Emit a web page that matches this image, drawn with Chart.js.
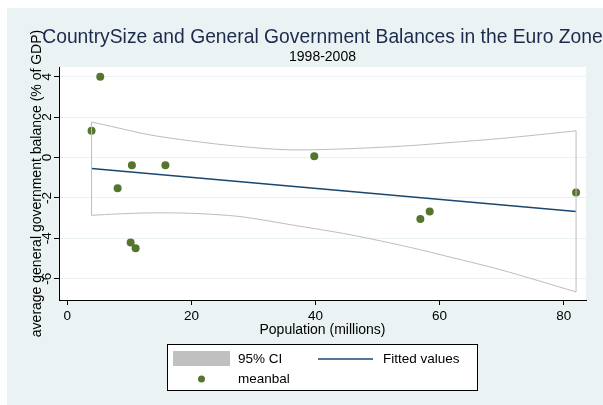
<!DOCTYPE html>
<html>
<head>
<meta charset="utf-8">
<script src="https://cdn.jsdelivr.net/npm/chart.js@4/dist/chart.umd.min.js"></script>
<style>
    html, body { margin: 0; padding: 0; background: #ffffff; }
    #wrap { width: 603px; height: 405px; position: relative; }
</style>
</head>
<body>
<div id="wrap"><canvas id="chart" width="603" height="405"></canvas></div>
<script>
// population (millions) and mean balance (% of GDP), one entry per country
const popMillions = [5.3, 3.9, 10.4, 15.8, 8.1, 10.2, 11.0, 39.8, 56.9, 58.4, 82.0];
const meanBal = [4.0, 1.32, -0.38, -0.38, -1.52, -4.21, -4.49, 0.06, -3.04, -2.67, -1.73];

// fitted line end points
const fitX = [3.9, 82.0];
const fitY = [-0.54, -2.67];

// 95% CI band
const ciX = [3.9, 8.1, 13.3, 20, 27.8, 35.9, 45.6, 55.3, 62, 69.8, 82.0];
const ciUpper = [1.76, 1.47, 1.12, 0.82, 0.55, 0.38, 0.44, 0.59, 0.75, 0.94, 1.32];
const ciLower = [-2.86, -2.79, -2.74, -2.76, -2.92, -3.32, -3.82, -4.45, -4.95, -5.55, -6.65];

const xTicks = [0, 20, 40, 60, 80];
const yTicks = [-6, -4, -2, 0, 2, 4];

const FONT = "'Liberation Sans', Arial, sans-serif";
const BG = '#eaf2f3';
const NAVY = '#1a476f';
const GREEN = '#55752f';
const CI_GREY = '#bdbdbd';

const toXY = (xs, ys) => xs.map((x, i) => ({ x: x, y: ys[i] }));

const last = ciX.length - 1;

const backdrop = {
    id: 'backdrop',
    beforeDraw(chart) {
        const ctx = chart.ctx;
        const a = chart.chartArea;
        ctx.save();
        ctx.fillStyle = '#ffffff';
        ctx.fillRect(0, 0, chart.width, chart.height);
        ctx.fillStyle = BG;
        ctx.fillRect(7, 8, chart.width - 7, chart.height - 8);
        ctx.fillStyle = '#ffffff';
        ctx.fillRect(a.left, a.top, a.right - a.left, a.bottom - a.top);
        ctx.restore();
    },
    afterDraw(chart) {
        const ctx = chart.ctx;
        const a = chart.chartArea;
        const ys = chart.scales.y;
        const cx = (a.left + a.right) / 2;
        ctx.save();

        // titles
        ctx.textAlign = 'center';
        ctx.textBaseline = 'middle';
        ctx.fillStyle = '#1c2a4e';
        ctx.font = '19.3px ' + FONT;
        ctx.fillText('CountrySize and General Government Balances in the Euro Zone', cx, 38);
        ctx.fillStyle = '#000000';
        ctx.font = '14px ' + FONT;
        ctx.fillText('1998-2008', cx, 57);

        // x title
        ctx.font = '14px ' + FONT;
        ctx.fillText('Population (millions)', cx, 330);

        // y tick labels, rotated like Stata
        ctx.font = '13.5px ' + FONT;
        yTicks.forEach(v => {
            const py = ys.getPixelForValue(v);
            ctx.save();
            ctx.translate(47, py);
            ctx.rotate(-Math.PI / 2);
            ctx.fillText(String(v), 0, 0);
            ctx.restore();
        });

        // y title
        ctx.font = '14px ' + FONT;
        ctx.save();
        ctx.translate(37, (a.top + a.bottom) / 2);
        ctx.rotate(-Math.PI / 2);
        ctx.fillText('average general government balance (% of GDP)', 0, 0);
        ctx.restore();

        // legend box
        ctx.fillStyle = '#ffffff';
        ctx.fillRect(167.5, 344.5, 310, 46);
        ctx.strokeStyle = '#000000';
        ctx.lineWidth = 1;
        ctx.strokeRect(167.5, 344.5, 310, 46);

        ctx.fillStyle = '#c0c0c0';
        ctx.fillRect(173, 351, 57, 15);

        ctx.strokeStyle = NAVY;
        ctx.lineWidth = 1.5;
        ctx.beginPath();
        ctx.moveTo(318, 359);
        ctx.lineTo(373, 359);
        ctx.stroke();

        ctx.fillStyle = GREEN;
        ctx.beginPath();
        ctx.arc(201.5, 379, 3.5, 0, Math.PI * 2);
        ctx.fill();

        ctx.fillStyle = '#000000';
        ctx.textAlign = 'left';
        ctx.font = '13.5px ' + FONT;
        ctx.fillText('95% CI', 238, 359);
        ctx.fillText('Fitted values', 383, 359);
        ctx.fillText('meanbal', 238, 379);

        ctx.restore();
    }
};

const ciLine = {
    borderColor: CI_GREY,
    borderWidth: 1,
    pointRadius: 0,
    showLine: true,
    fill: false
};

new Chart(document.getElementById('chart'), {
    type: 'scatter',
    data: {
        datasets: [
            Object.assign({ data: toXY(ciX, ciUpper), tension: 0.3 }, ciLine),
            Object.assign({ data: toXY(ciX, ciLower), tension: 0.3 }, ciLine),
            Object.assign({ data: toXY([ciX[0], ciX[0]], [ciLower[0], ciUpper[0]]) }, ciLine),
            Object.assign({ data: toXY([ciX[last], ciX[last]], [ciLower[last], ciUpper[last]]) }, ciLine),
            {
                label: 'Fitted values',
                data: toXY(fitX, fitY),
                showLine: true,
                borderColor: NAVY,
                borderWidth: 1.5,
                pointRadius: 0
            },
            {
                label: 'meanbal',
                data: toXY(popMillions, meanBal),
                backgroundColor: GREEN,
                borderColor: GREEN,
                pointRadius: 4,
                borderWidth: 0
            }
        ]
    },
    options: {
        responsive: false,
        animation: false,
        layout: { padding: { top: 67, right: 17, left: 0, bottom: 0 } },
        plugins: {
            legend: { display: false },
            tooltip: { enabled: false }
        },
        scales: {
            x: {
                type: 'linear',
                min: -1.35,
                max: 83.6,
                afterBuildTicks: s => { s.ticks = xTicks.map(v => ({ value: v })); },
                afterFit: s => { s.height = 105; },
                border: { display: true, color: '#000000', width: 1 },
                grid: { drawOnChartArea: false, drawTicks: true, tickLength: 5, tickColor: '#000000' },
                ticks: { color: '#000000', font: { family: FONT, size: 13.5 }, padding: 3, maxRotation: 0 }
            },
            y: {
                type: 'linear',
                min: -7.05,
                max: 4.48,
                afterBuildTicks: s => { s.ticks = yTicks.map(v => ({ value: v })); },
                afterFit: s => { s.width = 59; },
                border: { display: true, color: '#000000', width: 1 },
                grid: { color: BG, lineWidth: 1, drawTicks: true, tickLength: 5, tickColor: '#000000' },
                ticks: { display: false }
            }
        }
    },
    plugins: [backdrop]
});
</script>
</body>
</html>
